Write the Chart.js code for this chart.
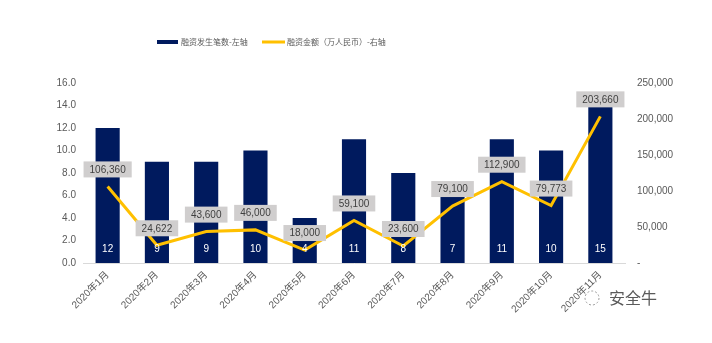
<!DOCTYPE html>
<html>
<head>
<meta charset="utf-8">
<script src="https://cdn.jsdelivr.net/npm/chart.js@4/dist/chart.umd.min.js"></script>
<style>
  html, body { margin: 0; padding: 0; background: #fff; }
  #wrap { position: relative; width: 712px; height: 343px; }
</style>
</head>
<body>
<div id="wrap"><canvas id="chart" width="712" height="343"></canvas></div>
<script>
/* ── DATA ── */
const months  = ['2020年1月','2020年2月','2020年3月','2020年4月','2020年5月','2020年6月',
                 '2020年7月','2020年8月','2020年9月','2020年10月','2020年11月'];
const dealCount = [12, 9, 9, 10, 4, 11, 8, 7, 11, 10, 15];
const dealAmount = [106360, 24622, 43600, 46000, 18000, 59100, 23600, 79100, 112900, 79773, 203660];
const countLabel  = '融资发生笔数-左轴';
const amountLabel = '融资金额（万人民币）-右轴';

const NAVY = '#001a5e';
const GOLD = '#ffc000';
const GREY = '#595959';
const FONT = '"Liberation Sans", Arial, "Noto Sans CJK SC", sans-serif';

const fmt = v => String(v).replace(/\B(?=(\d{3})+(?!\d))/g, ',');

/* ── LABELS + LEGEND PLUGIN ── */
const decor = {
  id: 'decor',
  afterDatasetsDraw(chart) {
    const ctx = chart.ctx;
    ctx.save();
    ctx.font = '10px ' + FONT;
    ctx.textAlign = 'center';
    ctx.textBaseline = 'middle';

    // white counts inside bars
    const bars = chart.getDatasetMeta(0).data;
    const yL = chart.scales.y;
    bars.forEach((b, i) => {
      ctx.fillStyle = '#ffffff';
      ctx.fillText(dealCount[i], b.x, yL.getPixelForValue(0) - 14);
    });

    // grey boxes above line points
    const pts = chart.getDatasetMeta(1).data;
    pts.forEach((p, i) => {
      const txt = fmt(dealAmount[i]);
      const w = ctx.measureText(txt).width + 12;
      const cy = p.y - 17;
      ctx.fillStyle = '#d0cece';
      ctx.fillRect(p.x - w / 2, cy - 8, w, 16);
      ctx.fillStyle = '#404040';
      ctx.fillText(txt, p.x, cy + 0.5);
    });
    ctx.restore();
  },
  afterDraw(chart) {
    const ctx = chart.ctx;
    ctx.save();
    // legend
    ctx.font = '8px "Noto Sans CJK SC", sans-serif';
    ctx.textBaseline = 'middle';
    ctx.textAlign = 'left';
    const ly = 42;
    ctx.fillStyle = NAVY;
    ctx.fillRect(157, ly - 2, 21, 4);
    ctx.fillStyle = GREY;
    ctx.fillText(countLabel, 181, ly);
    ctx.fillStyle = GOLD;
    ctx.fillRect(262, ly - 1.5, 23, 3);
    ctx.fillStyle = GREY;
    ctx.fillText(amountLabel, 287, ly);

    // watermark
    ctx.strokeStyle = '#9a9a9a';
    ctx.lineWidth = 1;
    ctx.setLineDash([2, 2]);
    ctx.beginPath();
    ctx.arc(592, 298, 7, 0, Math.PI * 2);
    ctx.stroke();
    ctx.setLineDash([]);
    ctx.font = '16px "Noto Sans CJK SC", sans-serif';
    ctx.fillStyle = '#5a5a5a';
    ctx.fillText('安全牛', 609, 298);
    ctx.restore();
  }
};

/* ── CHART ── */
new Chart(document.getElementById('chart'), {
  data: {
    labels: months,
    datasets: [
      {
        type: 'bar', label: countLabel, data: dealCount, yAxisID: 'y',
        backgroundColor: NAVY, barPercentage: 0.98, categoryPercentage: 0.5,
        order: 2
      },
      {
        type: 'line', label: amountLabel, data: dealAmount, yAxisID: 'y1',
        borderColor: GOLD, backgroundColor: GOLD, borderWidth: 3,
        pointRadius: 0, tension: 0, order: 1
      }
    ]
  },
  options: {
    responsive: false,
    animation: false,
    layout: { padding: { top: 83, left: 0, right: 0, bottom: 0 } },
    plugins: { legend: { display: false }, tooltip: { enabled: false } },
    scales: {
      x: {
        grid: { display: false, drawTicks: false },
        border: { color: '#d9d9d9' },
        ticks: { font: { size: 10, family: FONT }, color: GREY, minRotation: 45, maxRotation: 45, padding: 6 },
        afterFit: s => { s.height = 80; }
      },
      y: {
        position: 'left', min: 0, max: 16,
        grid: { display: false, drawTicks: false },
        border: { display: false },
        ticks: { stepSize: 2, font: { size: 10, family: FONT }, color: GREY, padding: 7,
                 callback: v => v.toFixed(1) },
        afterFit: s => { s.width = 83; }
      },
      y1: {
        position: 'right', min: 0, max: 250000,
        grid: { display: false, drawTicks: false },
        border: { display: false },
        ticks: { stepSize: 50000, font: { size: 10, family: FONT }, color: GREY, padding: 12,
                 callback: v => v === 0 ? '-' : fmt(v) },
        afterFit: s => { s.width = 87; }
      }
    }
  },
  plugins: [decor]
});
</script>
</body>
</html>
